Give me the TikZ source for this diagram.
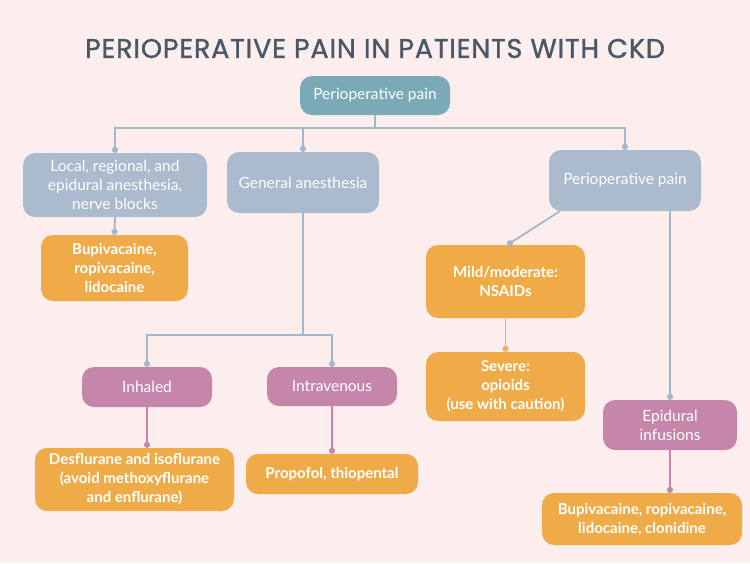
\documentclass[tikz,border=0pt]{standalone}
\usepackage{fontspec}
\setmainfont{Lato}
\newfontfamily\titlefont[FakeBold=1.2,LetterSpace=3]{Poppins}
\usetikzlibrary{arrows.meta}
\definecolor{bg}{HTML}{FDEEEE}
\definecolor{titlec}{HTML}{4A5765}
\definecolor{teal}{HTML}{7AAAB8}
\definecolor{grayb}{HTML}{ABBACD}
\definecolor{pinkb}{HTML}{C586AA}
\definecolor{orangeb}{HTML}{EEAB48}
\definecolor{bline}{HTML}{A4B6C9}
\definecolor{oline}{HTML}{EEB35A}
\tikzset{
  box/.style={rounded corners=12pt, text=white, align=center, inner sep=0pt},
  graybox/.style={box, fill=grayb, font=\fontsize{15.5}{19}\selectfont},
  tealbox/.style={box, fill=teal, font=\fontsize{15.5}{19}\selectfont},
  pinkbox/.style={box, fill=pinkb, font=\fontsize{15.5}{19}\selectfont},
  orbox/.style={box, fill=orangeb, font=\bfseries\fontsize{15}{19}\selectfont},
  conn/.style={line width=1.8pt, -{Circle[length=6pt,width=6pt]}},
  bconn/.style={conn, draw=bline},
  pconn/.style={conn, draw=pinkb},
  oconn/.style={conn, draw=oline}
}
\begin{document}
\begin{tikzpicture}[x=1pt,y=-1pt]
\fill[bg] (0,0) rectangle (750,563);
\useasboundingbox (0,0) rectangle (750,563);
\node[text=titlec, font=\titlefont\fontsize{27}{30}\selectfont] (title) at (375,48.5) {PERIOPERATIVE PAIN IN PATIENTS WITH CKD};
\node[tealbox, minimum width=150pt, minimum height=39pt] (root) at (375,95.5) {Perioperative pain};
\node[graybox, minimum width=184pt, minimum height=64pt] (A) at (115,185) {Local, regional, and\\epidural anesthesia,\\nerve blocks};
\node[graybox, minimum width=152pt, minimum height=61pt] (B) at (303,182.5) {General anesthesia};
\node[graybox, minimum width=152pt, minimum height=61pt] (C) at (625,180.5) {Perioperative pain};
\node[orbox, minimum width=147pt, minimum height=66pt] (A1) at (114.5,268) {Bupivacaine,\\ropivacaine,\\lidocaine};
\node[pinkbox, minimum width=130pt, minimum height=40pt] (inh) at (147,387) {Inhaled};
\node[pinkbox, minimum width=130pt, minimum height=39pt] (iv) at (332,386.5) {Intravenous};
\node[orbox, minimum width=199pt, minimum height=63pt] (des) at (134.5,479.5) {Desflurane and isoflurane\\(avoid methoxyflurane\\and enflurane)};
\node[orbox, minimum width=172pt, minimum height=40pt] (prop) at (332,474) {Propofol, thiopental};
\node[orbox, minimum width=159pt, minimum height=73pt] (mild) at (505.5,281.5) {Mild/moderate:\\NSAIDs};
\node[orbox, minimum width=159pt, minimum height=69pt] (sev) at (505.5,386.5) {Severe:\\opioids\\(use with caution)};
\node[pinkbox, minimum width=134pt, minimum height=50pt] (epi) at (670,425) {Epidural\\infusions};
\node[orbox, minimum width=200pt, minimum height=52pt] (bupi) at (642,519) {Bupivacaine, ropivacaine,\\lidocaine, clonidine};
% connectors
\draw[bconn] (root.south) -- ++(0,13) -| (A.north);
\draw[bconn] (root.south) -- ++(0,13) -| (B.north);
\draw[bconn] (root.south) -- ++(0,13) -| (C.north);
\draw[bconn] (A.south) -- (A1.north);
\draw[bconn] (B.south) -- ++(0,122) -| (inh.north);
\draw[bconn] (B.south) -- ++(0,122) -| (iv.north);
\draw[pconn] (inh.south) -- (inh.south |- des.north);
\draw[pconn] (iv.south) -- (prop.north);
\draw[bconn] ([xshift=11pt]C.south west) -- ([xshift=2pt]mild.north);
\draw[oconn] (mild.south) -- (sev.north);
\draw[bconn] (C.south -| epi.north) -- (epi.north);
\draw[pconn] (epi.south) -- (epi.south |- bupi.north);
\end{tikzpicture}
\end{document}
